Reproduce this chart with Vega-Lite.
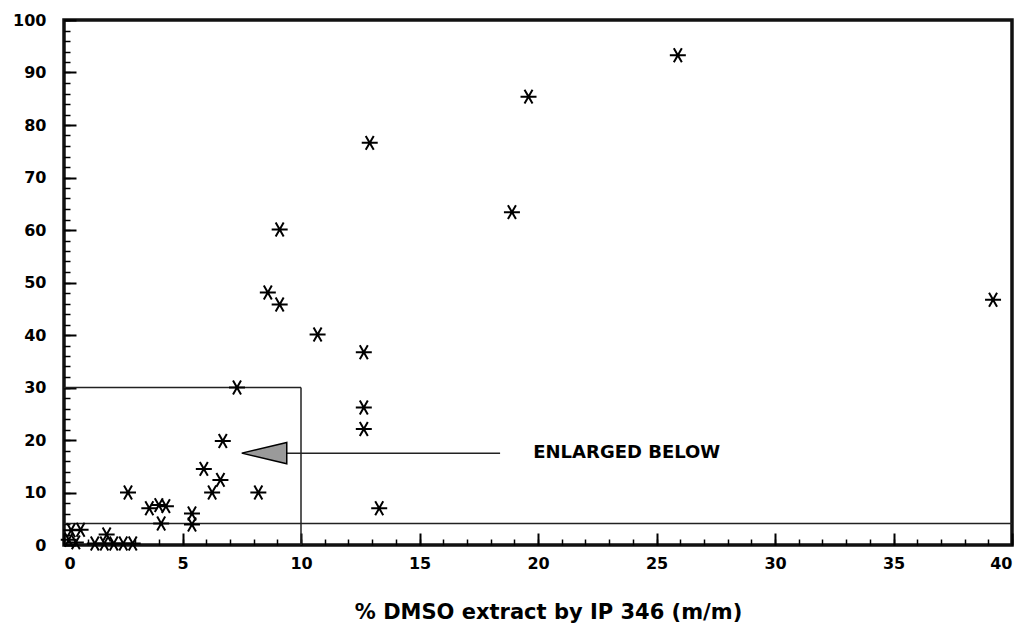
{
  "$schema": "https://vega.github.io/schema/vega-lite/v6.json",
  "width": 948,
  "height": 525,
  "autosize": "none",
  "padding": {"left": 64, "top": 20, "right": 17, "bottom": 83},
  "background": "white",
  "config": {
    "view": {"stroke": "#111", "strokeWidth": 3.5},
    "axis": {
      "grid": false,
      "domain": false,
      "ticks": true,
      "zindex": 1,
      "tickColor": "black",
      "tickWidth": 1.5,
      "tickOpacity": 1,
      "labelColor": "black",
      "labelFont": "DejaVu Sans",
      "labelFontWeight": "bold",
      "labelFontSize": 16,
      "titleColor": "black",
      "titleFont": "DejaVu Sans",
      "titleFontWeight": "bold"
    }
  },
  "datasets": {
    "points": [
      {"dmso": 25.9, "val": 93.3},
      {"dmso": 19.6, "val": 85.4},
      {"dmso": 12.9, "val": 76.6},
      {"dmso": 18.9, "val": 63.4},
      {"dmso": 9.1, "val": 60.1},
      {"dmso": 8.6, "val": 48.1},
      {"dmso": 9.1, "val": 45.8},
      {"dmso": 10.7, "val": 40.1},
      {"dmso": 12.65, "val": 36.7},
      {"dmso": 12.65, "val": 26.2},
      {"dmso": 12.65, "val": 22.1},
      {"dmso": 13.3, "val": 7.0},
      {"dmso": 39.2, "val": 46.7},
      {"dmso": 7.3, "val": 30.0},
      {"dmso": 6.7, "val": 19.8},
      {"dmso": 5.9, "val": 14.5},
      {"dmso": 6.6, "val": 12.4},
      {"dmso": 6.25, "val": 10.0},
      {"dmso": 8.2, "val": 10.0},
      {"dmso": 2.7, "val": 10.0},
      {"dmso": 3.6, "val": 7.0},
      {"dmso": 4.0, "val": 7.6},
      {"dmso": 4.3, "val": 7.4},
      {"dmso": 4.1, "val": 4.1},
      {"dmso": 5.4, "val": 6.0},
      {"dmso": 5.4, "val": 3.9},
      {"dmso": 0.3, "val": 2.8},
      {"dmso": 0.7, "val": 2.9},
      {"dmso": 1.8, "val": 2.0},
      {"dmso": 0.2, "val": 1.0},
      {"dmso": 1.3, "val": 0.3},
      {"dmso": 1.7, "val": 0.3},
      {"dmso": 2.1, "val": 0.3},
      {"dmso": 2.5, "val": 0.3},
      {"dmso": 2.9, "val": 0.3},
      {"dmso": 0.5, "val": 0.5}
    ],
    "guides": [
      {"x": 0, "x2": 10, "y": 30, "y2": 30},
      {"x": 10, "x2": 10, "y": 0, "y2": 30},
      {"x": 0, "x2": 40, "y": 4.1, "y2": 4.1},
      {"x": 9.4, "x2": 18.4, "y": 17.5, "y2": 17.5}
    ],
    "arrowhead": [{"x": 8.45, "y": 17.5}],
    "note": [{"x": 19.8, "y": 17.5, "label": "ENLARGED BELOW"}]
  },
  "layer": [
    {
      "data": {"name": "guides"},
      "mark": {"type": "rule", "color": "#222", "strokeWidth": 1.5},
      "encoding": {
        "x": {"field": "x", "type": "quantitative", "scale": {"domain": [0, 40], "nice": false, "zero": false},
              "axis": {"orient": "bottom", "values": [0,1,2,3,4,5,6,7,8,9,10,11,12,13,14,15,16,17,18,19,20,21,22,23,24,25,26,27,28,29,30,31,32,33,34,35,36,37,38,39,40], "offset": -6, "tickSize": 6, "labels": false, "title": null}},
        "x2": {"field": "x2"},
        "y": {"field": "y", "type": "quantitative", "scale": {"domain": [0, 100], "nice": false, "zero": false},
              "axis": {"orient": "left", "values": [0,2,4,6,8,10,12,14,16,18,20,22,24,26,28,30,32,34,36,38,40,42,44,46,48,50,52,54,56,58,60,62,64,66,68,70,72,74,76,78,80,82,84,86,88,90,92,94,96,98,100], "offset": -6, "tickSize": 6, "labels": false, "title": null}},
        "y2": {"field": "y2"}
      }
    },
    {
      "data": {"name": "arrowhead"},
      "mark": {"type": "point", "shape": "M-1,0L1,-0.47L1,0.47Z", "size": 2025, "filled": true, "fill": "#9a9a9a", "stroke": "black", "strokeWidth": 1.5, "opacity": 1},
      "encoding": {
        "x": {"field": "x", "type": "quantitative", "axis": null},
        "y": {"field": "y", "type": "quantitative", "axis": null}
      }
    },
    {
      "data": {"name": "note"},
      "mark": {"type": "text", "align": "left", "baseline": "middle", "font": "DejaVu Sans", "fontWeight": "bold", "fontSize": 18, "color": "black"},
      "encoding": {
        "x": {"field": "x", "type": "quantitative", "axis": null},
        "y": {"field": "y", "type": "quantitative", "axis": null},
        "text": {"field": "label"}
      }
    },
    {
      "data": {"name": "points"},
      "mark": {"type": "point", "shape": "M-1,0L1,0M-0.5,-0.87L0.5,0.87M0.5,-0.87L-0.5,0.87", "size": 256, "filled": false, "stroke": "black", "strokeWidth": 2, "opacity": 1},
      "encoding": {
        "x": {"field": "dmso", "type": "quantitative", "scale": {"domain": [0, 40], "nice": false, "zero": false},
              "axis": {"orient": "bottom", "values": [0,5,10,15,20,25,30,35,40], "offset": -12, "tickSize": 12, "tickWidth": 2, "labelPadding": 10, "title": "% DMSO extract by IP 346 (m/m)", "titleFontSize": 21, "titleX": 484, "titleY": 85, "titleAlign": "center", "titleBaseline": "alphabetic"}},
        "y": {"field": "val", "type": "quantitative", "scale": {"domain": [0, 100], "nice": false, "zero": false},
              "axis": {"orient": "left", "values": [0,10,20,30,40,50,60,70,80,90,100], "offset": -12, "tickSize": 12, "tickWidth": 2, "labelPadding": 18, "title": null}}
      }
    }
  ],
  "resolve": {"axis": {"x": "independent", "y": "independent"}}
}
